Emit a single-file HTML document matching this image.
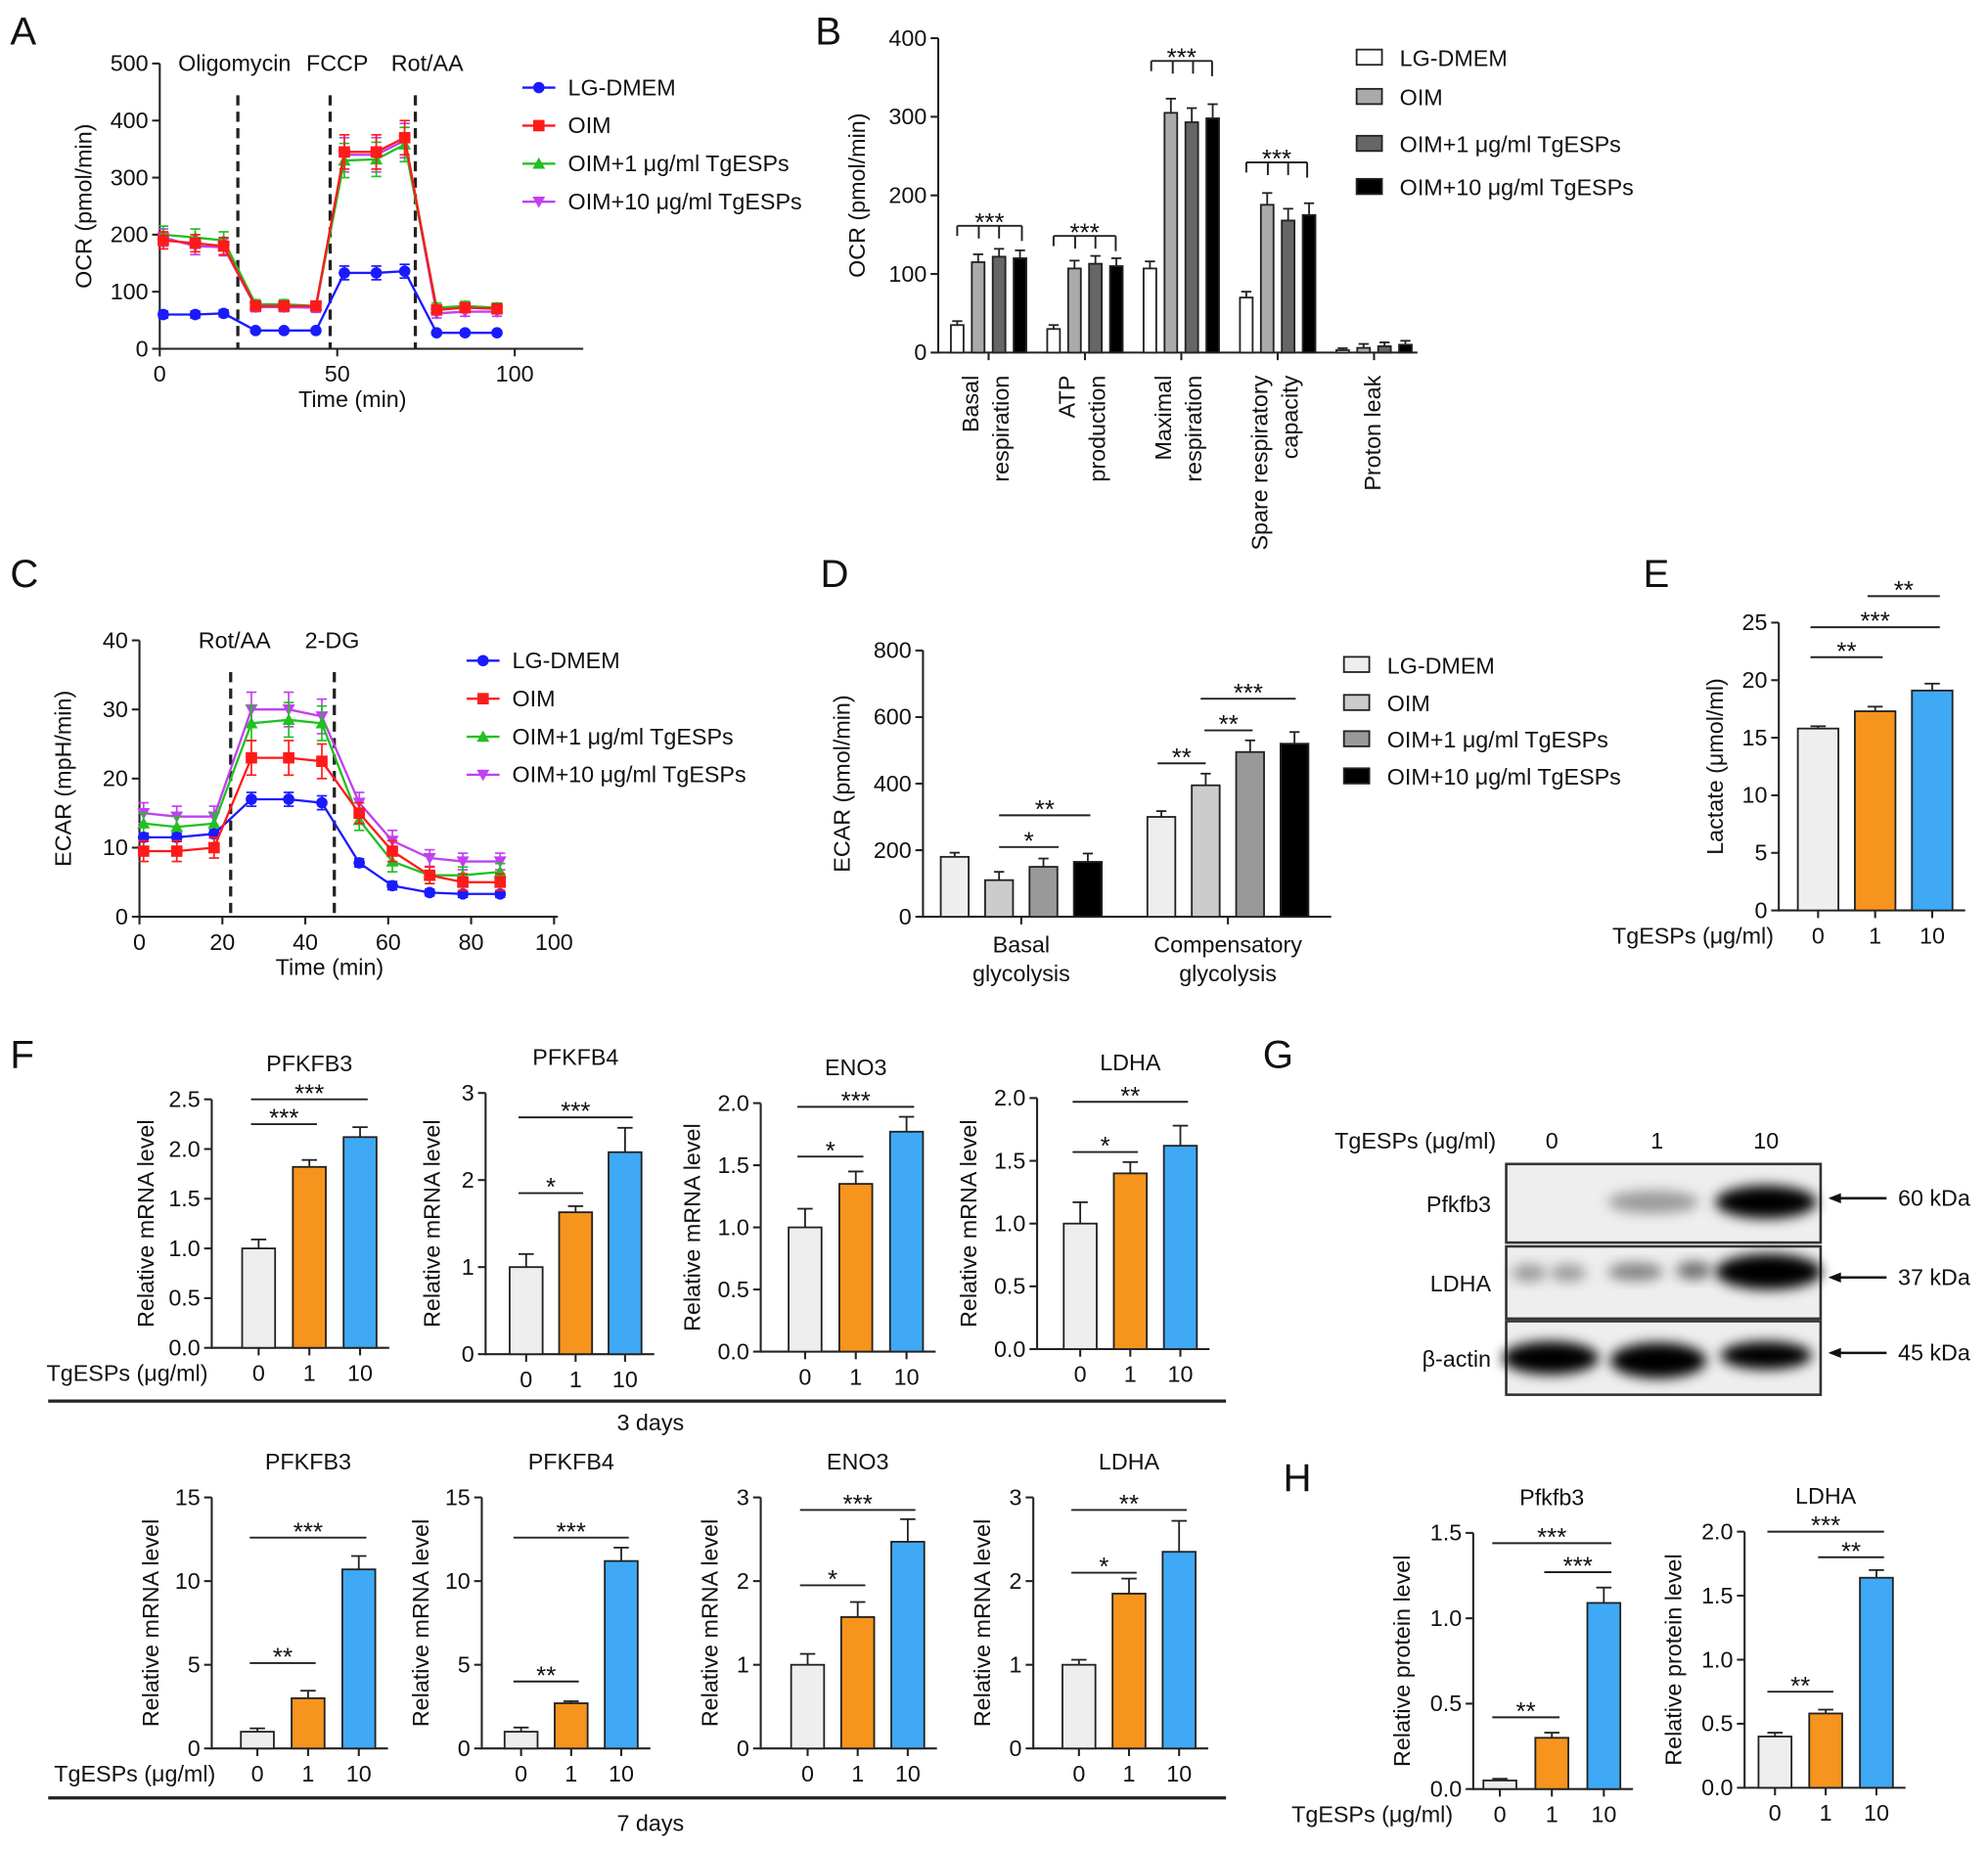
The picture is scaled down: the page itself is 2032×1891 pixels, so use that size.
<!DOCTYPE html>
<html><head><meta charset="utf-8"><style>
html,body{margin:0;padding:0;background:#fff}
svg{display:block}
text{font-family:"Liberation Sans",Arial,sans-serif;fill:#111}
</style></head><body>
<svg id="fig" xmlns="http://www.w3.org/2000/svg" width="2032" height="1891" viewBox="0 0 1568 1459">
<defs><filter id="blur" x="-50%" y="-50%" width="200%" height="200%"><feGaussianBlur stdDeviation="5"/></filter></defs>
</svg>
<script>
// ---------- DATA ----------
const aTimes=[1,10,18,27,35,44,52,61,69,78,86,95];
const aLG=[60,60,62,32,32,32,133,133,136,28,28,28];
const aOIM=[190,185,180,75,75,75,345,345,370,68,72,70];
const aOIM1=[200,195,190,78,78,75,330,332,358,72,75,72];
const aOIM10=[195,180,178,73,73,72,340,340,365,62,65,65];
const aErr=[15,15,15,8,8,8,30,30,30,8,8,8];
const aXTicks=[0,50,100];
const aYTicks=[0,100,200,300,400,500];
const bCats=[["Basal","respiration"],["ATP","production"],["Maximal","respiration"],["Spare respiratory","capacity"],["Proton leak"]];
const bLG=[35,30,107,70,3];
const bOIM=[115,107,305,188,6];
const bOIM1=[122,113,293,168,8];
const bOIM10=[120,110,298,175,10];
const bErr=[10,10,18,15,5];
const bYTicks=[0,100,200,300,400];
const cTimes=[1,9,18,27,36,44,53,61,70,78,87];
const cLG=[11.5,11.5,12,17,17,16.5,7.8,4.5,3.5,3.3,3.3];
const cOIM=[9.5,9.5,10,23,23,22.5,15,9.5,6,5,5];
const cOIM1=[13.5,13,13.5,28,28.5,28,14,8,6,6,6.5];
const cOIM10=[15,14.5,14.5,30,30,29,16.5,11,8.5,8,8];
const cErr=[1.5,1.5,1.5,2.5,2.5,2.5,1.5,1.5,1.2,1.2,1.2];
const cXTicks=[0,20,40,60,80,100];
const cYTicks=[0,10,20,30,40];
const dCats=[["Basal","glycolysis"],["Compensatory","glycolysis"]];
const dLG=[180,300];
const dOIM=[110,395];
const dOIM1=[150,495];
const dOIM10=[165,520];
const dErr=[25,35];
const dYTicks=[0,200,400,600,800];
const doseLabels=["0","1","10"];
const eVals=[15.8,17.3,19.1];
const eErr=[0.2,0.4,0.6];
const eYTicks=[0,5,10,15,20,25];
const f1Vals=[1.0,1.82,2.12], f1Err=[0.09,0.07,0.1];
const f2Vals=[1.0,1.63,2.32], f2Err=[0.15,0.07,0.28];
const f3Vals=[1.0,1.35,1.77], f3Err=[0.15,0.1,0.12];
const f4Vals=[1.0,1.4,1.62], f4Err=[0.17,0.09,0.16];
const f5Vals=[1.0,3.0,10.7], f5Err=[0.2,0.45,0.8];
const f6Vals=[1.0,2.7,11.2], f6Err=[0.25,0.12,0.8];
const f7Vals=[1.0,1.57,2.47], f7Err=[0.13,0.18,0.27];
const f8Vals=[1.0,1.85,2.35], f8Err=[0.06,0.18,0.37];
const h1Vals=[0.05,0.3,1.09], h1Err=[0.01,0.03,0.09];
const h2Vals=[0.4,0.58,1.64], h2Err=[0.03,0.03,0.06];

// ---------- HELPERS ----------
const NS="http://www.w3.org/2000/svg";
const svg=document.getElementById('fig');
function el(tag,attrs,parent){const e=document.createElementNS(NS,tag);for(const k in attrs)e.setAttribute(k,attrs[k]);(parent||svg).appendChild(e);return e;}
function grp(name){const g=el('g',{});


return g;}
function ln(g,x1,y1,x2,y2,w,stroke,dash){return el('line',{x1,y1,x2,y2,stroke:stroke||'#222','stroke-width':w||1.6,'stroke-dasharray':dash||'none'},g);}
function tx(g,x,y,s,size,anchor,rot,weight){const t=el('text',{x,y,'font-size':size||18,'text-anchor':anchor||'middle'},g);if(rot)t.setAttribute('transform',`rotate(${rot} ${x} ${y})`);if(weight)t.setAttribute('font-weight',weight);t.textContent=s;return t;}
function yAxis(g,x,y0,y1,ticks,sy,fmt){ln(g,x,y0+0.8,x,y1);ticks.forEach(v=>{const y=sy(v);ln(g,x-6,y,x,y);tx(g,x-9,y+6,fmt?fmt(v):String(v),18,'end');});}
function sig(g,x1,x2,y,label){ln(g,x1,y,x2,y,1.5);tx(g,(x1+x2)/2,y+2,label,20,'middle');}
function panelLetter(x,y,s){const t=tx(svg,x,y,s,31,'start');

}

// ---------- LINE CHART ----------
const seriesColors=['#1a1aff','#ff1a1a','#22c022','#c040f0'];
function marker(g,type,x,y,c){
 if(type===0)el('circle',{cx:x,cy:y,r:4.5,fill:c},g);
 else if(type===1)el('rect',{x:x-4.5,y:y-4.5,width:9,height:9,fill:c},g);
 else if(type===2)el('polygon',{points:`${x},${y-5} ${x-5},${y+4} ${x+5},${y+4}`,fill:c},g);
 else el('polygon',{points:`${x},${y+5} ${x-5},${y-4} ${x+5},${y-4}`,fill:c},g);}
function lineChart(cfg){
 const g=grp(cfg.name);
 const sx=v=>cfg.x0+(v-cfg.xmin)*(cfg.x1-cfg.x0)/(cfg.xmax-cfg.xmin);
 const sy=v=>cfg.y0-(v)*(cfg.y0-cfg.y1)/cfg.ymax;
 yAxis(g,cfg.x0,cfg.y0,cfg.y1,cfg.yticks,sy);
 ln(g,cfg.x0,cfg.y0,cfg.xend,cfg.y0);
 cfg.xticks.forEach(v=>{ln(g,sx(v),cfg.y0,sx(v),cfg.y0+6);tx(g,sx(v),cfg.y0+26,String(v),18);});
 tx(g,(cfg.x0+cfg.xend)/2-15,cfg.y0+46,'Time (min)',18);
 tx(g,cfg.x0-54,(cfg.y0+cfg.y1)/2,cfg.ylabel,18,'middle',-90);
 cfg.injections.forEach(([t,label,lx])=>{ln(g,sx(t),cfg.y1+25,sx(t),cfg.y0,2.5,'#222','8,5');tx(g,lx,cfg.y1+6,label,18);});
 const order=[3,2,0,1];
 order.forEach(si=>{const vals=cfg.series[si];const c=seriesColors[si];
  const sg=el('g',{},g);
  
  
  const pts=cfg.times.map((t,i)=>`${sx(t)},${sy(vals[i])}`).join(' ');
  el('polyline',{points:pts,fill:'none',stroke:c,'stroke-width':1.8},sg);
  cfg.times.forEach((t,i)=>{const x=sx(t),e=cfg.err[i]*(si===0?0.4:1);
   ln(sg,x,sy(vals[i]-e),x,sy(vals[i]+e),1.3,c);ln(sg,x-4,sy(vals[i]+e),x+4,sy(vals[i]+e),1.3,c);ln(sg,x-4,sy(vals[i]-e),x+4,sy(vals[i]-e),1.3,c);
   marker(sg,si,x,sy(vals[i]),c);});
 });
 cfg.names.forEach((n,i)=>{const y=cfg.legY+i*cfg.legStep;const lg=el('g',{},g);
  
  
  ln(lg,cfg.legX,y,cfg.legX+26,y,1.8,seriesColors[i]);marker(lg,i,cfg.legX+13,y,seriesColors[i]);tx(lg,cfg.legX+36,y+6,n,18,'start');});
}
const legNames=['LG-DMEM','OIM','OIM+1 \u03bcg/ml TgESPs','OIM+10 \u03bcg/ml TgESPs'];
lineChart({name:'panel-a-ocr-timecourse',x0:126,x1:406,xmin:0,xmax:100,xend:460,y0:275,y1:50,ymax:500,times:aTimes,series:[aLG,aOIM,aOIM1,aOIM10],err:aErr,xticks:aXTicks,yticks:aYTicks,ylabel:'OCR (pmol/min)',injections:[[22,'Oligomycin',185],[48,'FCCP',266],[72,'Rot/AA',337]],names:legNames,legX:412,legY:69,legStep:30});
lineChart({name:'panel-c-ecar-timecourse',x0:110,x1:437,xmin:0,xmax:100,xend:440,y0:723,y1:505,ymax:40,times:cTimes,series:[cLG,cOIM,cOIM1,cOIM10],err:cErr,xticks:cXTicks,yticks:cYTicks,ylabel:'ECAR (mpH/min)',injections:[[22,'Rot/AA',185],[47,'2-DG',262]],names:legNames,legX:368,legY:521,legStep:30});

// ---------- GROUPED BAR CHARTS ----------
function groupedBar(cfg){
 const g=grp(cfg.name);
 const sy=v=>cfg.y0-v*(cfg.y0-cfg.y1)/cfg.ymax;
 yAxis(g,cfg.x0,cfg.y0,cfg.y1,cfg.yticks,sy);
 ln(g,cfg.x0,cfg.y0,cfg.xend,cfg.y0);
 tx(g,cfg.x0-58,(cfg.y0+cfg.y1)/2,cfg.ylabel,18,'middle',-90);
 const series=cfg.series;
 cfg.cats.forEach((cat,ci)=>{
  const gx=cfg.x0+cfg.gOff+ci*cfg.gStep;
  series.forEach((vals,si)=>{const x=gx+si*cfg.bStep;const y=sy(vals[ci]);
   const e=cfg.err[ci]*(si===0?0.5:1);
   ln(g,x+cfg.bw/2,sy(vals[ci]+e),x+cfg.bw/2,y,1.4);ln(g,x+cfg.bw/2-4,sy(vals[ci]+e),x+cfg.bw/2+4,sy(vals[ci]+e),1.4);
   const r=el('rect',{x,y,width:cfg.bw,height:cfg.y0-y,fill:cfg.colors[si],stroke:'#222','stroke-width':1.4},g);
   
   
  });
  const cx=gx+(series.length*cfg.bStep-(cfg.bStep-cfg.bw))/2;
  ln(g,cx,cfg.y0,cx,cfg.y0+6);
  cfg.catLabel(g,cat,cx);
 });
 cfg.legend.forEach((n,i)=>{const y=cfg.legY+i*cfg.legStep[i];
  el('rect',{x:cfg.legX,y:y-7,width:20,height:12,fill:cfg.colors[i],stroke:'#222','stroke-width':1.4},g);
  tx(g,cfg.legX+34,y+6,n,18,'start');});
 return sy;
}
groupedBar({name:'panel-b-ocr-parameters',x0:740,y0:278,y1:30,ymax:400,xend:1118,yticks:bYTicks,ylabel:'OCR (pmol/min)',
 cats:bCats,series:[bLG,bOIM,bOIM1,bOIM10],err:bErr,gOff:10,gStep:76,bStep:16.5,bw:10,
 colors:['#ffffff','#aaaaaa','#666666','#000000'],
 catLabel:(g,cat,cx)=>{if(cat.length===1)tx(g,cx+5,296,cat[0],18,'end',-90);else{tx(g,cx-8,296,cat[0],18,'end',-90);tx(g,cx+16,296,cat[1],18,'end',-90);}},
 legend:['LG-DMEM','OIM','OIM+1 \u03bcg/ml TgESPs','OIM+10 \u03bcg/ml TgESPs'],legX:1070,legY:46,legStep:[0,31,34,34]});
const bSigG=grp('panel-b-significance');
[[755,806,178],[831,880,186],[908,956,48],[983,1031,128]].forEach(([a,b,y])=>{ln(bSigG,a,y,b,y,1.5);ln(bSigG,a,y,a,y+8,1.5);ln(bSigG,b,y,b,y+12,1.5);ln(bSigG,a+17,y,a+17,y+10,1.5);ln(bSigG,a+33,y,a+33,y+10,1.5);tx(bSigG,(a+b)/2,y+4,'***',20);});

groupedBar({name:'panel-d-ecar-parameters',x0:728,y0:723,y1:513,ymax:800,xend:1050,yticks:dYTicks,ylabel:'ECAR (pmol/min)',
 cats:dCats,series:[dLG,dOIM,dOIM1,dOIM10],err:dErr,gOff:14,gStep:163,bStep:35,bw:22,
 colors:['#eeeeee','#cccccc','#999999','#000000'],
 catLabel:(g,cat,cx)=>{tx(g,cx,751,cat[0],18);tx(g,cx,774,cat[1],18);},
 legend:['LG-DMEM','OIM','OIM+1 \u03bcg/ml TgESPs','OIM+10 \u03bcg/ml TgESPs'],legX:1060,legY:525,legStep:[0,30,29.3,29.3]});
const dSigG=grp('panel-d-significance');
sig(dSigG,788,835,668,'*');sig(dSigG,788,860,643,'**');sig(dSigG,913,951,602,'**');sig(dSigG,950,988,576,'**');sig(dSigG,947,1022,551,'***');

// ---------- SIMPLE DOSE BAR CHARTS ----------
const doseColors=['#eeeeee','#f7941d','#3fa9f5'];
function doseBar(cfg){
 const g=grp(cfg.name);
 const sy=v=>cfg.y0-v*(cfg.y0-cfg.y1)/cfg.ymax;
 yAxis(g,cfg.x0,cfg.y0,cfg.y1,cfg.yticks,sy,cfg.fmt);
 const xe=cfg.x0+cfg.off+2*cfg.step+cfg.bw+10;
 ln(g,cfg.x0,cfg.y0,xe,cfg.y0);
 cfg.vals.forEach((v,i)=>{const x=cfg.x0+cfg.off+i*cfg.step;const y=sy(v);const e=cfg.err[i];
  ln(g,x+cfg.bw/2,sy(v+e),x+cfg.bw/2,y,1.4);ln(g,x+cfg.bw/2-6,sy(v+e),x+cfg.bw/2+6,sy(v+e),1.4);
  const r=el('rect',{x,y,width:cfg.bw,height:cfg.y0-y,fill:doseColors[i],stroke:'#222','stroke-width':1.4},g);
  
  
  ln(g,x+cfg.bw/2,cfg.y0,x+cfg.bw/2,cfg.y0+6);
  tx(g,x+cfg.bw/2,cfg.y0+26,doseLabels[i],18);});
 if(cfg.title)tx(g,cfg.x0+cfg.off+cfg.step+cfg.bw/2,cfg.y1-22,cfg.title,18);
 tx(g,cfg.x0-cfg.ylOff,(cfg.y0+cfg.y1)/2,cfg.ylabel,18,'middle',-90);
 if(cfg.xlabel)tx(g,cfg.x0+cfg.xlX,cfg.y0+26,'TgESPs (\u03bcg/ml)',18,'end');
 const bx=i=>cfg.x0+cfg.off+i*cfg.step+cfg.bw/2;
 (cfg.sigs||[]).forEach(([i,j,v,l])=>sig(g,bx(i)-6,bx(j)+6,sy(v),l));
}
const f1=v=>v.toFixed(1), f0=v=>String(v);
doseBar({name:'panel-e-lactate',x0:1403,y0:718,y1:491,ymax:25,yticks:eYTicks,vals:eVals,err:eErr,off:15,step:45,bw:32,ylabel:'Lactate (\u03bcmol/ml)',ylOff:44,xlabel:1,xlX:-4,sigs:[[0,1,22,'**'],[0,2,24.6,'***'],[1,2,27.3,'**']]});
doseBar({name:'panel-f-pfkfb3-3d',x0:167,y0:1063,y1:867,ymax:2.5,yticks:[0,0.5,1,1.5,2,2.5],fmt:f1,vals:f1Vals,err:f1Err,off:24,step:40,bw:26,title:'PFKFB3',ylabel:'Relative mRNA level',ylOff:46,xlabel:1,xlX:-3,sigs:[[0,1,2.25,'***'],[0,2,2.5,'***']]});
doseBar({name:'panel-f-pfkfb4-3d',x0:383,y0:1068,y1:862,ymax:3,yticks:[0,1,2,3],fmt:f0,vals:f2Vals,err:f2Err,off:19,step:39,bw:26,title:'PFKFB4',ylabel:'Relative mRNA level',ylOff:36,sigs:[[0,1,1.85,'*'],[0,2,2.72,'***']]});
doseBar({name:'panel-f-eno3-3d',x0:600,y0:1066,y1:870,ymax:2,yticks:[0,0.5,1,1.5,2],fmt:f1,vals:f3Vals,err:f3Err,off:22,step:40,bw:26,title:'ENO3',ylabel:'Relative mRNA level',ylOff:48,sigs:[[0,1,1.57,'*'],[0,2,1.97,'***']]});
doseBar({name:'panel-f-ldha-3d',x0:818,y0:1064,y1:866,ymax:2,yticks:[0,0.5,1,1.5,2],fmt:f1,vals:f4Vals,err:f4Err,off:21,step:39.5,bw:26,title:'LDHA',ylabel:'Relative mRNA level',ylOff:48,sigs:[[0,1,1.57,'*'],[0,2,1.97,'**']]});
doseBar({name:'panel-f-pfkfb3-7d',x0:167,y0:1379,y1:1181,ymax:15,yticks:[0,5,10,15],fmt:f0,vals:f5Vals,err:f5Err,off:23,step:40,bw:26,title:'PFKFB3',ylabel:'Relative mRNA level',ylOff:42,xlabel:1,xlX:3,sigs:[[0,1,5.1,'**'],[0,2,12.6,'***']]});
doseBar({name:'panel-f-pfkfb4-7d',x0:380,y0:1379,y1:1181,ymax:15,yticks:[0,5,10,15],fmt:f0,vals:f6Vals,err:f6Err,off:18,step:39.5,bw:26,title:'PFKFB4',ylabel:'Relative mRNA level',ylOff:42,sigs:[[0,1,4.0,'**'],[0,2,12.6,'***']]});
doseBar({name:'panel-f-eno3-7d',x0:600,y0:1379,y1:1181,ymax:3,yticks:[0,1,2,3],fmt:f0,vals:f7Vals,err:f7Err,off:24,step:39.5,bw:26,title:'ENO3',ylabel:'Relative mRNA level',ylOff:34,sigs:[[0,1,1.95,'*'],[0,2,2.85,'***']]});
doseBar({name:'panel-f-ldha-7d',x0:815,y0:1379,y1:1181,ymax:3,yticks:[0,1,2,3],fmt:f0,vals:f8Vals,err:f8Err,off:23,step:39.5,bw:26,title:'LDHA',ylabel:'Relative mRNA level',ylOff:34,sigs:[[0,1,2.1,'*'],[0,2,2.85,'**']]});
doseBar({name:'panel-h-pfkfb3-protein',x0:1162,y0:1411,y1:1209,ymax:1.5,yticks:[0,0.5,1,1.5],fmt:f1,vals:h1Vals,err:h1Err,off:8,step:41,bw:26,title:'Pfkfb3',ylabel:'Relative protein level',ylOff:50,xlabel:1,xlX:-16,sigs:[[0,1,0.42,'**'],[1,2,1.27,'***'],[0,2,1.44,'***']]});
doseBar({name:'panel-h-ldha-protein',x0:1376,y0:1410,y1:1208,ymax:2,yticks:[0,0.5,1,1.5,2],fmt:f1,vals:h2Vals,err:h2Err,off:11,step:40,bw:26,title:'LDHA',ylabel:'Relative protein level',ylOff:50,sigs:[[0,1,0.75,'**'],[1,2,1.8,'**'],[0,2,2.0,'***']]});

const days=grp('day-separators');
ln(days,38,1105,967,1105,2.5);tx(days,513,1128,'3 days',18);
ln(days,38,1418,967,1418,2.5);tx(days,513,1444,'7 days',18);

// ---------- PANEL G ----------
const gB=grp('panel-g-western-blot');
tx(gB,1180,906,'TgESPs (\u03bcg/ml)',18,'end');
[['0',1224],['1',1307],['10',1393]].forEach(([s,x])=>tx(gB,x,906,s,18));
const rows=[['Pfkfb3',918,980,'60 kDa'],['LDHA',983,1040,'37 kDa'],['\u03b2-actin',1042,1100,'45 kDa']];
rows.forEach(([n,t,b,kda])=>{
 el('rect',{x:1188,y:t,width:248,height:b-t,fill:'#eeeeee',stroke:'#333','stroke-width':2},gB);
 tx(gB,1176,(t+b)/2+7,n,18,'end');
 const ay=(t+b)/2-4;ln(gB,1444,ay,1488,ay,2,'#111');el('polygon',{points:`${1442},${ay} ${1452},${ay-4} ${1452},${ay+4}`,fill:'#111'},gB);
 tx(gB,1497,ay+6,kda,18,'start');});
const bands=[[1304,948,36,9,0.35],[1393,948,40,13,1],[1206,1004,14,7,0.35],[1237,1004,14,7,0.35],[1290,1003,22,7,0.45],[1336,1002,14,7,0.55],[1395,1003,42,14,1],[1223,1071,38,13,1],[1308,1073,38,14,1],[1393,1069,36,11,1]];
bands.forEach(([cx,cy,rx,ry,o])=>el('ellipse',{cx,cy,rx,ry,fill:'#000','fill-opacity':o,filter:'url(#blur)'},gB));

panelLetter(8,35,'A');panelLetter(643,35,'B');panelLetter(8,463,'C');panelLetter(647,463,'D');panelLetter(1296,463,'E');
panelLetter(8,842,'F');panelLetter(996,842,'G');panelLetter(1012,1176,'H');
</script>
</body></html>
